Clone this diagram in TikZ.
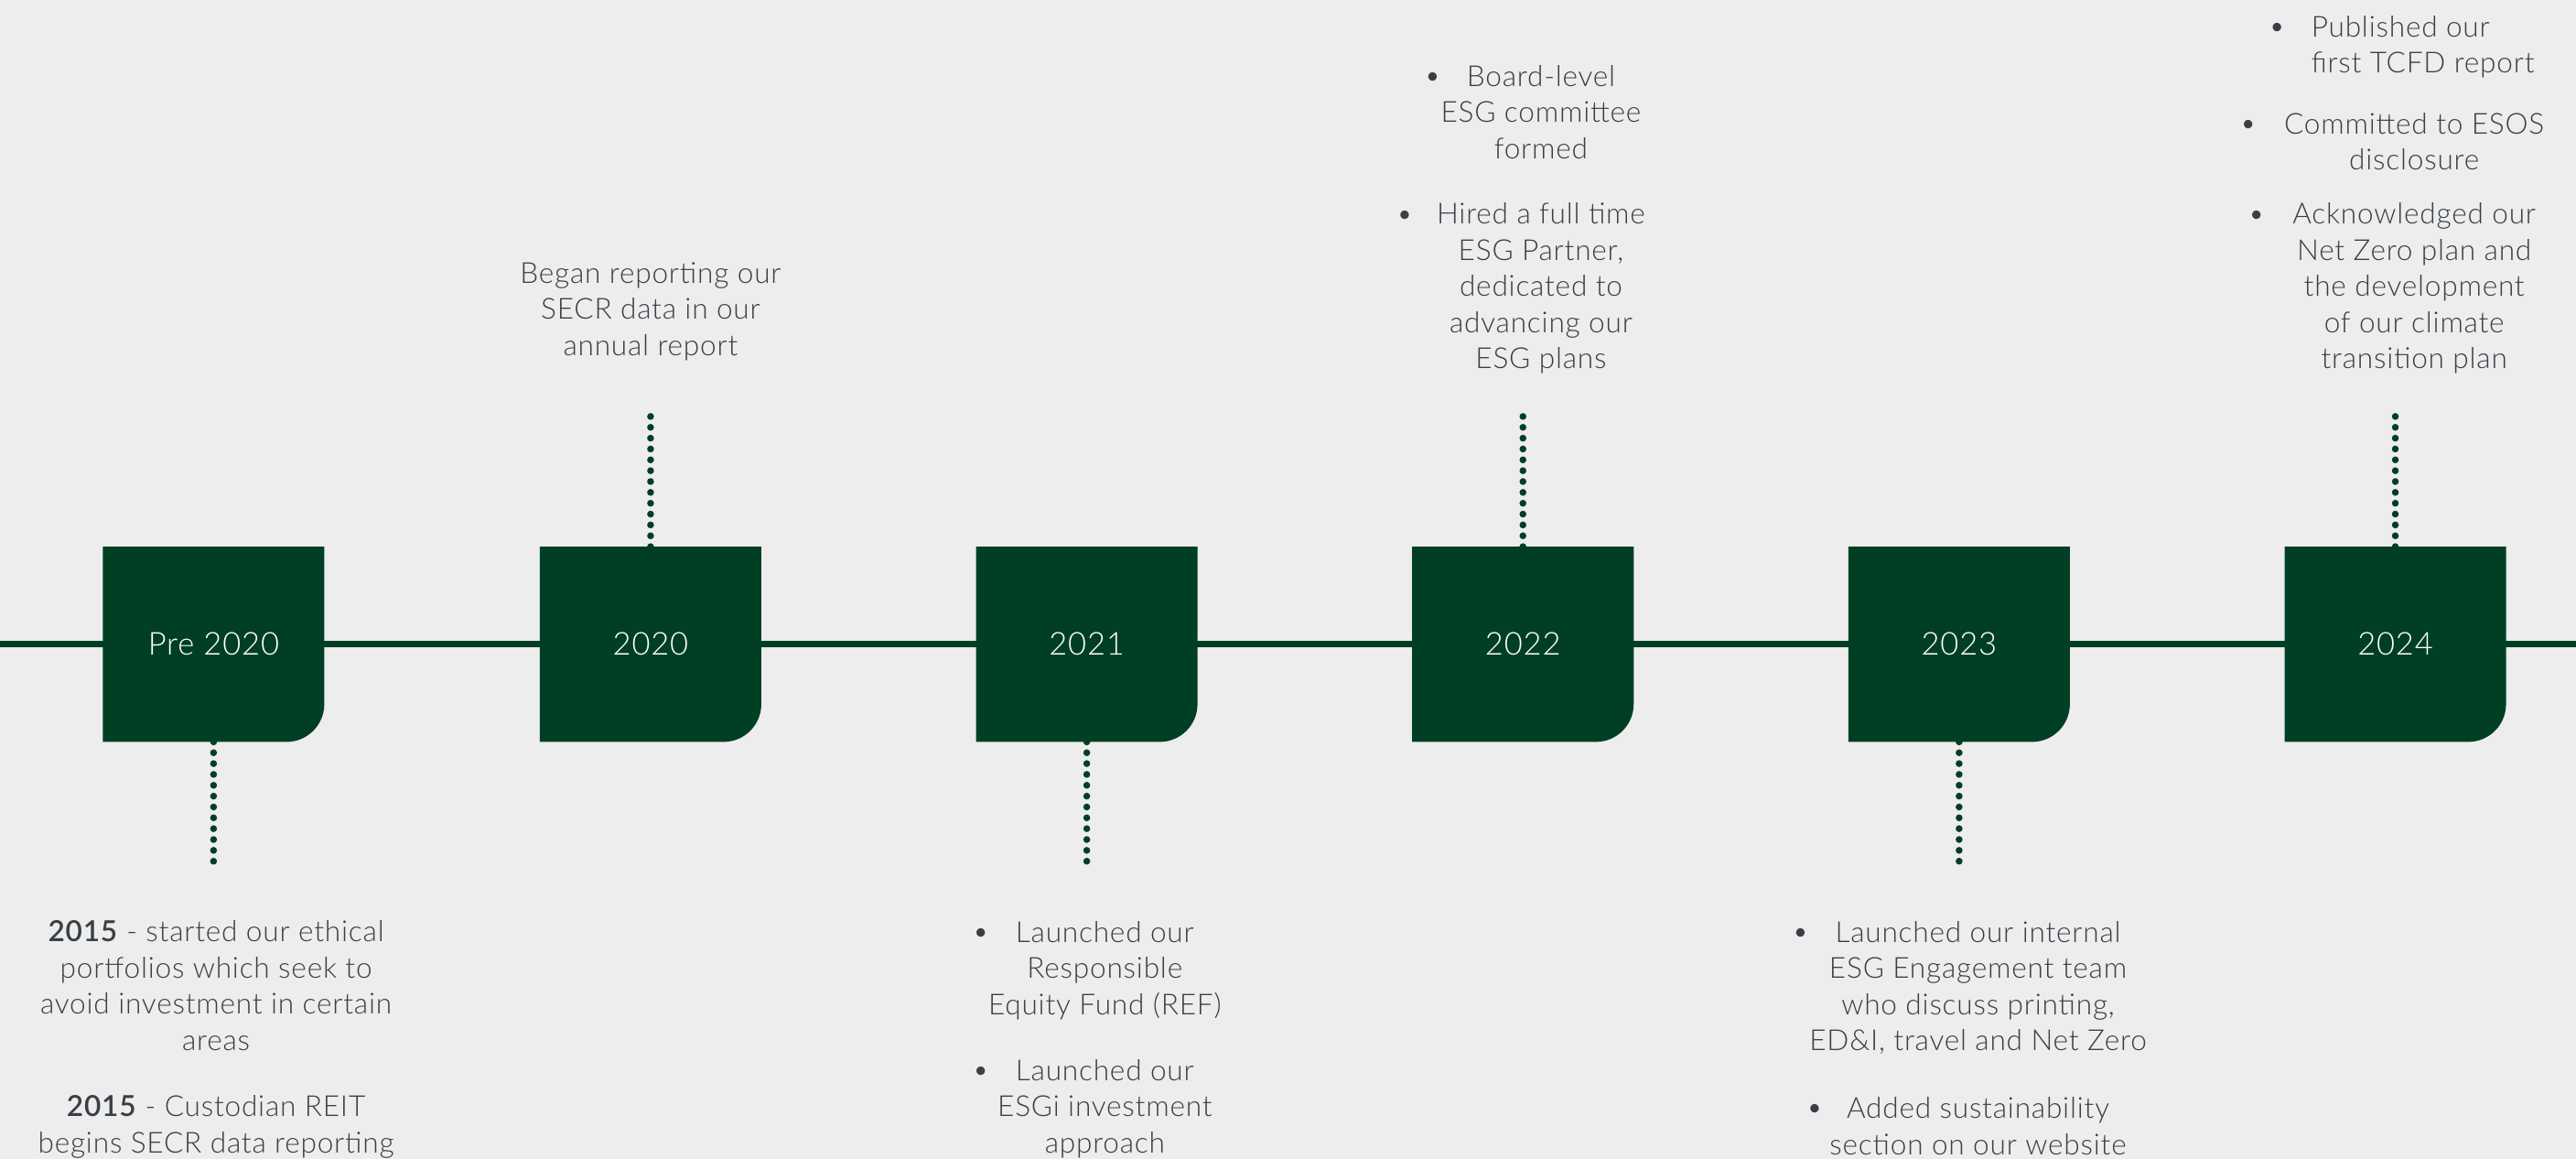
\documentclass[tikz,border=0pt]{standalone}
\usepackage{fontspec}
\IfFontExistsTF{Lato Semibold}{\def\mybold{Lato Semibold}}{\def\mybold{Lato Bold}}
\IfFontExistsTF{Lato Light}{\setmainfont{Lato Light}[BoldFont=\mybold, LetterSpace=2.5]}{\setmainfont{Lato}[LetterSpace=2.5]}
\usetikzlibrary{backgrounds}
\definecolor{esggreen}{HTML}{003F24}
\definecolor{bggray}{HTML}{EDEDED}
\definecolor{txtgray}{HTML}{383F46}
\newcommand\myst{\rule{0pt}{7pt}}
\begin{document}
\begin{tikzpicture}[x=0.5pt,y=-0.5pt,
  txt/.style={font=\fontsize{8.8}{11}\selectfont, text=txtgray, inner sep=0pt, align=center, anchor=north},
  bul/.style={font=\fontsize{8.8}{11}\selectfont, text=txtgray, inner sep=0pt, anchor=base},
  yearbox/.style={minimum width=67pt, minimum height=59pt, inner sep=0pt, text=white, font=\fontsize{9.6}{11}\selectfont},
  dotline/.style={draw=esggreen, line width=2.1pt, line cap=round, dash pattern=on 0pt off 3.3pt},
  axisline/.style={draw=esggreen, line width=2pt}
]
\useasboundingbox (0,0) rectangle (1568,705);

\coordinate (L) at (0,392);
\coordinate (R) at (1568,392);

\foreach \n/\x/\t in {pre/130/Pre 2020, y20/396/2020, y21/661.5/2021, y22/927/2022, y23/1192.5/2023, y24/1458/2024}{
  \node[yearbox] (\n) at (\x,392) {\t};
}

\begin{scope}[on background layer]
  \fill[bggray] (0,0) rectangle (1568,705);
  \draw[axisline] (L) -- (R);
  \foreach \n in {pre,y20,y21,y22,y23,y24}{
    \fill[esggreen] (\n.north west) -- (\n.north east) -- ([yshift=11.5pt]\n.south east)
      arc[start angle=0,end angle=-90,radius=11.5pt] -- (\n.south west) -- cycle;
  }
\end{scope}

% dotted connectors
\coordinate (dpre) at (130,530);
\coordinate (d20) at (396,253);
\coordinate (d21) at (661.5,530);
\coordinate (d22) at (927,253);
\coordinate (d23) at (1192.5,530);
\coordinate (d24) at (1458,253);
\draw[dotline] (pre.south) -- (dpre);
\draw[dotline] (y20.north) -- (d20);
\draw[dotline] (y21.south) -- (d21);
\draw[dotline] (y22.north) -- (d22);
\draw[dotline] (y23.south) -- (d23);
\draw[dotline] (y24.north) -- (d24);

% Pre 2020
\node[txt] (tpa) at (131.5,558.5) {\myst\textbf{2015} - started our ethical\\portfolios which seek to\\avoid investment in certain\\areas};
\node[txt] (tpb) at (131.5,665) {\myst\textbf{2015} - Custodian REIT\\begins SECR data reporting};

% 2020
\node[txt] (t20) at (396,158) {\myst Began reporting our\\SECR data in our\\annual report};

% 2021
\node[bul] (b21a) at (597,573) {•};
\node[txt] (t21a) at (672.5,559) {\myst Launched our\\Responsible\\Equity Fund (REF)};
\node[bul] (b21b) at (597,657) {•};
\node[txt] (t21b) at (672.5,643) {\myst Launched our\\ESGi investment\\approach};

% 2022
\node[bul] (b22a) at (872,52) {•};
\node[txt] (t22a) at (938,38) {\myst Board-level\\ESG committee\\formed};
\node[bul] (b22b) at (855,136) {•};
\node[txt] (t22b) at (938,122) {\myst Hired a full time\\ESG Partner,\\dedicated to\\advancing our\\ESG plans};

% 2023
\node[bul] (b23a) at (1096,573) {•};
\node[txt] (t23a) at (1204,559) {\myst Launched our internal\\ESG Engagement team\\who discuss printing,\\ED\&I, travel and Net Zero};
\node[bul] (b23b) at (1104.5,680) {•};
\node[txt] (t23b) at (1204,666) {\myst Added sustainability\\section on our website};

% 2024
\node[bul] (b24a) at (1386,22) {•};
\node[txt, align=left, anchor=north west] (t24a) at (1406.5,8) {\myst Published our\\first TCFD report};
\node[bul] (b24b) at (1368.5,81) {•};
\node[txt] (t24b) at (1469.5,67) {\myst Committed to ESOS\\disclosure};
\node[bul] (b24c) at (1373.5,136) {•};
\node[txt] (t24c) at (1469.5,122) {\myst Acknowledged our\\Net Zero plan and\\the development\\of our climate\\transition plan};
\end{tikzpicture}
\end{document}
